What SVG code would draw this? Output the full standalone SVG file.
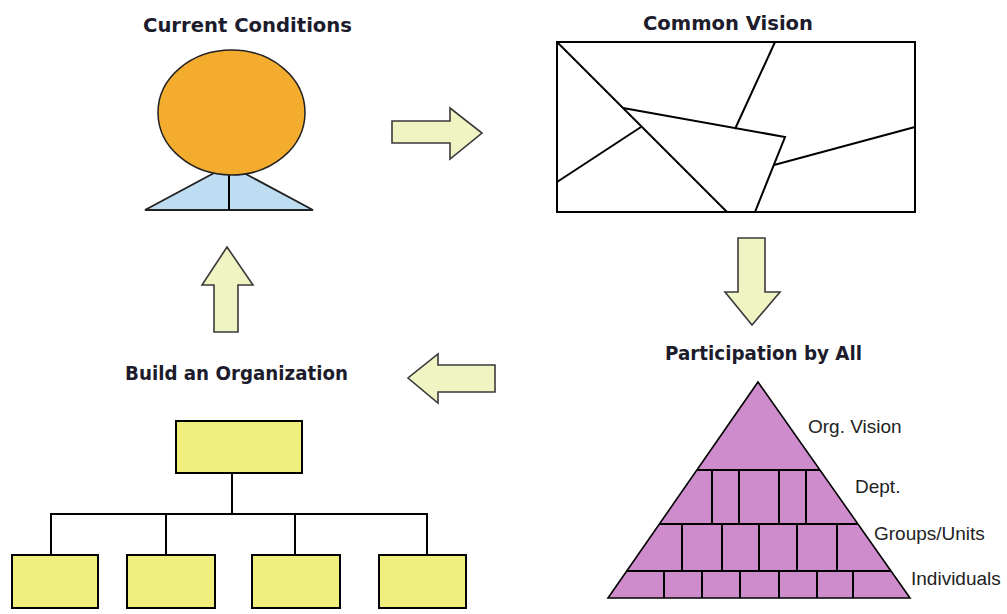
<svg xmlns="http://www.w3.org/2000/svg" width="1007" height="614" viewBox="0 0 1007 614">
<style>
.title{font-family:"DejaVu Sans","Liberation Sans",sans-serif;font-weight:bold;font-size:19.5px;fill:#1c1c2c}
.lbl{font-family:"Liberation Sans",Arial,sans-serif;font-size:19px;fill:#222}
.ln{stroke:#000;stroke-width:2;fill:none}
.arrow{fill:#EFF4C2;stroke:#3a3a3a;stroke-width:1.6;stroke-linejoin:miter}
.org{fill:#F0EE7C;stroke:#000;stroke-width:2}
.pyr{fill:#CE8CCC;stroke:#000;stroke-width:1.6}
</style>
<rect width="1007" height="614" fill="#fff"/>

<g id="current-conditions">
  <text class="title" x="143" y="32" textLength="209" lengthAdjust="spacingAndGlyphs">Current Conditions</text>
  <polygon points="145,210 229,165 313,210" fill="#BEDDF3" stroke="#222" stroke-width="1.8"/>
  <line x1="229" y1="170" x2="229" y2="210" stroke="#000" stroke-width="2"/>
  <ellipse cx="231.5" cy="112.5" rx="73.5" ry="62.5" fill="#F3AC2E" stroke="#222" stroke-width="1.5"/>
</g>

<g id="common-vision">
  <text class="title" x="643" y="30" textLength="170" lengthAdjust="spacingAndGlyphs">Common Vision</text>
  <rect x="557" y="42" width="358" height="170" fill="#fff" stroke="#000" stroke-width="2"/>
  <line class="ln" x1="557" y1="42" x2="727" y2="212"/>
  <polyline class="ln" points="623,108 785,137 755,212"/>
  <line class="ln" x1="775" y1="42" x2="735" y2="129"/>
  <line class="ln" x1="557" y1="182" x2="641" y2="127"/>
  <line class="ln" x1="915" y1="127" x2="774" y2="165"/>
</g>

<g id="participation">
  <text class="title" x="665" y="360" textLength="197" lengthAdjust="spacingAndGlyphs">Participation by All</text>
  <polygon class="pyr" points="758,382 910,598 608,598"/>
  <g class="ln" stroke-width="1.6">
    <line x1="697" y1="470" x2="820" y2="470"/>
    <line x1="659" y1="524" x2="857" y2="524"/>
    <line x1="626" y1="571" x2="891" y2="571"/>
    <line x1="712" y1="470" x2="712" y2="524"/>
    <line x1="739" y1="470" x2="739" y2="524"/>
    <line x1="779" y1="470" x2="779" y2="524"/>
    <line x1="806" y1="470" x2="806" y2="524"/>
    <line x1="682" y1="524" x2="682" y2="571"/>
    <line x1="722" y1="524" x2="722" y2="571"/>
    <line x1="759" y1="524" x2="759" y2="571"/>
    <line x1="797" y1="524" x2="797" y2="571"/>
    <line x1="837" y1="524" x2="837" y2="571"/>
    <line x1="664" y1="571" x2="664" y2="598"/>
    <line x1="702" y1="571" x2="702" y2="598"/>
    <line x1="740" y1="571" x2="740" y2="598"/>
    <line x1="779" y1="571" x2="779" y2="598"/>
    <line x1="817" y1="571" x2="817" y2="598"/>
    <line x1="853" y1="571" x2="853" y2="598"/>
  </g>
  <text class="lbl" x="808" y="433">Org. Vision</text>
  <text class="lbl" x="855" y="493">Dept.</text>
  <text class="lbl" x="874" y="540">Groups/Units</text>
  <text class="lbl" x="911" y="585">Individuals</text>
</g>

<g id="build-organization">
  <text class="title" x="125" y="380" textLength="223" lengthAdjust="spacingAndGlyphs">Build an Organization</text>
  <rect class="org" x="176" y="421" width="126" height="52"/>
  <rect class="org" x="12" y="555" width="86" height="53"/>
  <rect class="org" x="127" y="555" width="88" height="53"/>
  <rect class="org" x="252" y="555" width="88" height="53"/>
  <rect class="org" x="379" y="555" width="87" height="53"/>
</g>

<g id="connectors">
  <g class="ln">
    <line x1="232" y1="473" x2="232" y2="514"/>
    <polyline points="51,555 51,514 427,514 427,555"/>
    <line x1="166" y1="514" x2="166" y2="555"/>
    <line x1="295" y1="514" x2="295" y2="555"/>
  </g>
  <polygon class="arrow" points="392,121 450,121 450,108 482,133 450,159 450,143 392,143"/>
  <polygon class="arrow" points="738,238 765,238 765,292 780,292 752,325 725,292 738,292"/>
  <polygon class="arrow" points="495,365 438,365 438,354 408,378 438,403 438,392 495,392"/>
  <polygon class="arrow" points="214,332 214,285 202,285 227,247 253,285 238,285 238,332"/>
</g>
</svg>
